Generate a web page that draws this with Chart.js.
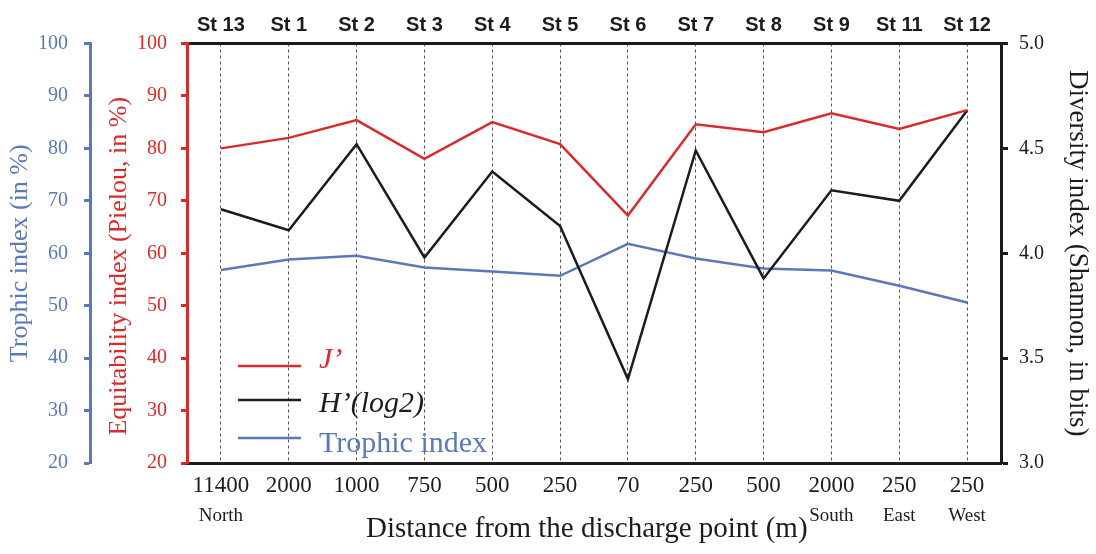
<!DOCTYPE html>
<html>
<head>
<meta charset="utf-8">
<script src="https://cdn.jsdelivr.net/npm/chart.js@4/dist/chart.umd.min.js"></script>
<style>
html,body{margin:0;padding:0;background:#ffffff;}
#wrap{width:1096px;height:554px;}
</style>
</head>
<body>
<div id="wrap"><canvas id="c" width="1096" height="554"></canvas></div>
<script>
// ---- data ----
const stations = ['St 13','St 1','St 2','St 3','St 4','St 5','St 6','St 7','St 8','St 9','St 11','St 12'];
const distances = ['11400','2000','1000','750','500','250','70','250','500','2000','250','250'];
const directions = ['North','','','','','','','','','South','East','West'];
const equitability = [80.0, 82.0, 85.4, 78.0, 85.0, 80.8, 67.2, 84.6, 83.1, 86.7, 83.7, 87.3];
const diversity = [4.21, 4.11, 4.52, 3.98, 4.39, 4.13, 3.40, 4.49, 3.88, 4.30, 4.25, 4.68];
const trophic = [56.8, 58.8, 59.5, 57.3, 56.5, 55.7, 61.8, 59.0, 57.1, 56.7, 53.8, 50.6];
const percentRange = [20, 100];
const diversityRange = [3.0, 5.0];
const legendLabels = ['J\u2019', 'H\u2019(log2)', 'Trophic index'];

// ---- styles ----
const RED = '#d92b2b';
const BLUE = '#5b78bb';
const BLACK = '#1c1c1c';
const SERIF = "'Liberation Serif', 'Times New Roman', serif";
const SANS = "'Liberation Sans', Arial, sans-serif";

const subLabelPlugin = {
  id: 'subLabels',
  afterDraw(chart) {
    const ctx = chart.ctx;
    const xs = chart.scales.x;
    ctx.save();
    ctx.font = '19px ' + SERIF;
    ctx.fillStyle = BLACK;
    ctx.textAlign = 'center';
    ctx.textBaseline = 'middle';
    directions.forEach((d, i) => {
      if (!d) return;
      ctx.fillText(d, xs.getPixelForValue(i), xs.top + 53);
    });
    ctx.restore();
  }
};

const legendPlugin = {
  id: 'innerLegend',
  afterDatasetsDraw(chart) {
    const ctx = chart.ctx;
    const a = chart.chartArea;
    const items = chart.data.datasets;
    const rows = [a.bottom - 97, a.bottom - 63, a.bottom - 25];
    const base = [a.bottom - 95, a.bottom - 51, a.bottom - 11];
    ctx.save();
    items.forEach((ds, i) => {
      ctx.strokeStyle = ds.borderColor;
      ctx.lineWidth = 2.5;
      ctx.beginPath();
      ctx.moveTo(a.left + 51, rows[i]);
      ctx.lineTo(a.left + 114, rows[i]);
      ctx.stroke();
      ctx.fillStyle = ds.borderColor;
      ctx.font = (i < 2 ? 'italic ' : '') + '30px ' + SERIF;
      ctx.textAlign = 'left';
      ctx.textBaseline = 'alphabetic';
      ctx.fillText(ds.label, a.left + 132, base[i]);
    });
    ctx.restore();
  }
};

new Chart(document.getElementById('c'), {
  type: 'line',
  data: {
    labels: distances,
    datasets: [
      {label: legendLabels[0], data: equitability, yAxisID: 'yE', xAxisID: 'x', borderColor: RED, backgroundColor: RED, borderWidth: 2.5, pointRadius: 0, tension: 0},
      {label: legendLabels[1], data: diversity, yAxisID: 'yD', xAxisID: 'x', borderColor: BLACK, backgroundColor: BLACK, borderWidth: 2.5, pointRadius: 0, tension: 0},
      {label: legendLabels[2], data: trophic, yAxisID: 'yT', xAxisID: 'x', borderColor: BLUE, backgroundColor: BLUE, borderWidth: 2.5, pointRadius: 0, tension: 0}
    ]
  },
  options: {
    responsive: false,
    animation: false,
    devicePixelRatio: 1,
    layout: {padding: 0},
    plugins: {legend: {display: false}, tooltip: {enabled: false}},
    scales: {
      x: {
        type: 'category', position: 'bottom', offset: true,
        grid: {display: true, drawOnChartArea: true, drawTicks: false, color: '#555555', lineWidth: 1},
        border: {display: true, color: BLACK, width: 3, dash: [3, 3]},
        ticks: {color: BLACK, font: {family: SERIF, size: 23}, padding: 9, maxRotation: 0, autoSkip: false},
        title: {display: true, text: 'Distance from the discharge point (m)  ', color: BLACK, font: {family: SERIF, size: 29}, padding: {top: 0, bottom: 7}},
        afterFit(s) { s.height = 91; }
      },
      x2: {
        type: 'category', position: 'top', offset: true, labels: stations,
        grid: {display: false, drawTicks: false},
        border: {display: true, color: BLACK, width: 3},
        ticks: {color: BLACK, font: {family: SANS, size: 20, weight: 'bold'}, padding: 6, maxRotation: 0, autoSkip: false},
        afterFit(s) { s.height = 43.5; }
      },
      yT: {
        position: 'left', weight: 2, min: percentRange[0], max: percentRange[1],
        ticks: {stepSize: 10, color: BLUE, font: {family: SERIF, size: 20}, padding: 16},
        grid: {display: true, drawOnChartArea: false, drawTicks: true, tickLength: 6, tickColor: BLUE, tickWidth: 3, color: BLUE},
        border: {display: true, color: BLUE, width: 3},
        title: {display: true, text: 'Trophic index (in %)', color: BLUE, font: {family: SERIF, size: 26}, padding: {top: 5, bottom: 0}},
        afterFit(s) { s.width = 90; }
      },
      yE: {
        position: 'left', weight: 1, min: percentRange[0], max: percentRange[1],
        ticks: {stepSize: 10, color: RED, font: {family: SERIF, size: 20}, padding: 14},
        grid: {display: true, drawOnChartArea: false, drawTicks: true, tickLength: 6, tickColor: RED, tickWidth: 3, color: RED},
        border: {display: true, color: RED, width: 3},
        title: {display: true, text: 'Equitability index (Pielou, in %)    ', color: RED, font: {family: SERIF, size: 26}, padding: {top: 14, bottom: 0}},
        afterFit(s) { s.width = 97; }
      },
      yD: {
        position: 'right', min: diversityRange[0], max: diversityRange[1],
        ticks: {stepSize: 0.5, color: BLACK, font: {family: SERIF, size: 20}, padding: 11, callback: v => Number(v).toFixed(1)},
        grid: {display: true, drawOnChartArea: false, drawTicks: true, tickLength: 7, tickColor: BLACK, tickWidth: 3, color: BLACK},
        border: {display: true, color: BLACK, width: 3},
        title: {display: true, text: 'Diversity index (Shannon, in bits)', color: BLACK, font: {family: SERIF, size: 27}, padding: {top: 3, bottom: 0}},
        afterFit(s) { s.width = 95; }
      }
    }
  },
  plugins: [subLabelPlugin, legendPlugin]
});
</script>
</body>
</html>
